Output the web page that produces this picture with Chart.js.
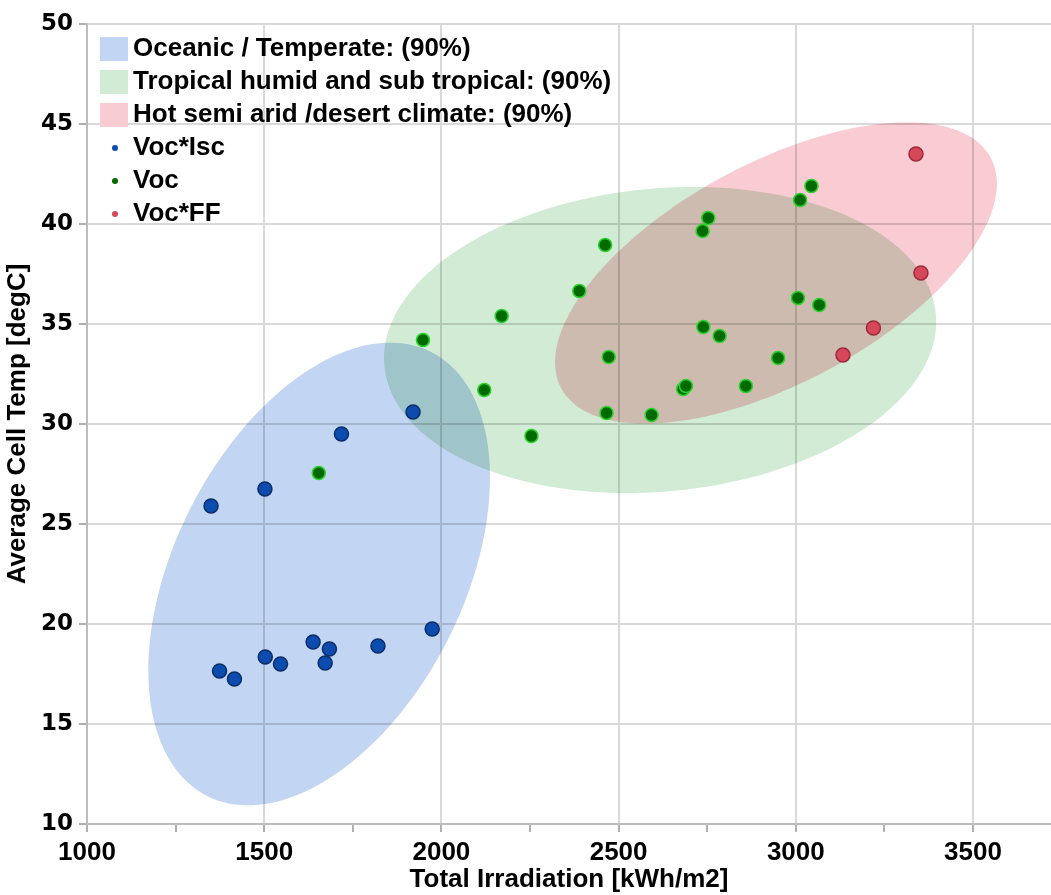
<!DOCTYPE html>
<html>
<head>
<meta charset="utf-8">
<script src="https://cdn.jsdelivr.net/npm/chart.js@4.4.1/dist/chart.umd.min.js"></script>
<style>
  html, body { margin: 0; padding: 0; background: #fff; overflow: hidden; }
  #wrap { width: 1051px; height: 895px; }
</style>
</head>
<body>
<div id="wrap"><canvas id="myChart"></canvas></div>
<script>
// x tick labels (every 500) and minor tick marks (every 250), y tick labels
const xTicks = [1000, 1500, 2000, 2500, 3000, 3500];
const xTickMarks = [1000, 1250, 1500, 1750, 2000, 2250, 2500, 2750, 3000, 3250, 3500];
const yTicks = [10, 15, 20, 25, 30, 35, 40, 45, 50];

// Voc*Isc (blue)
const vocIscX = [1350, 1502, 1718, 1920, 1374, 1416, 1503, 1546, 1638, 1684, 1672, 1821, 1974];
const vocIscY = [25.9, 26.75, 29.5, 30.6, 17.65, 17.25, 18.35, 18.0, 19.1, 18.75, 18.05, 18.9, 19.75];

// Voc (green)
const vocX = [1654, 1948, 2121, 2170, 2254, 2389, 2462, 2472, 2466, 2593, 2682, 2690, 2737, 2753, 2739, 2785, 2859, 2950, 3006, 3066, 3012, 3044];
const vocY = [27.55, 34.2, 31.7, 35.4, 29.4, 36.65, 38.95, 33.35, 30.55, 30.45, 31.75, 31.9, 39.65, 40.3, 34.85, 34.4, 31.9, 33.3, 36.3, 35.95, 41.2, 41.9];

// Voc*FF (red)
const vocFFX = [3339, 3353, 3219, 3133];
const vocFFY = [43.5, 37.55, 34.8, 33.45];

// 90% regions: centre, major and minor semi-axis vectors (data units)
const regionNames = ["Oceanic / Temperate: (90%)", "Tropical humid and sub tropical: (90%)", "Hot semi arid /desert climate: (90%)"];
const regionCenters = [[1655, 22.5], [2617, 34.2], [2944, 37.55]];
const regionMajor = [[316, 11.1], [778, 1.3], [606, 5.76]];
const regionMinor = [[364, -3.26], [40, -7.54], [146, -4.85]];
const regionColors = ["#c2d5f3", "#d1ebd4", "#f9cbd2"];

const seriesNames = ["Voc*Isc", "Voc", "Voc*FF"];
const seriesFill = ["#0b4cae", "#006a00", "#d6475a"];
const seriesBorder = ["#0b2d68", "#2ad22a", "#9e2a3b"];
const seriesRadius = [7, 6.5, 7];

function pts(xs, ys) {
  return xs.map((v, i) => ({ x: v, y: ys[i] }));
}

const regionPlugin = {
  id: "regions",
  beforeDatasetsDraw(chart) {
    const { ctx, chartArea, scales } = chart;
    ctx.save();
    ctx.beginPath();
    ctx.rect(chartArea.left, chartArea.top, chartArea.width, chartArea.height);
    ctx.clip();
    ctx.globalCompositeOperation = "multiply";
    regionCenters.forEach((c, i) => {
      ctx.beginPath();
      for (let k = 0; k <= 160; k++) {
        const t = (k / 160) * Math.PI * 2;
        const vx = c[0] + regionMajor[i][0] * Math.cos(t) + regionMinor[i][0] * Math.sin(t);
        const vy = c[1] + regionMajor[i][1] * Math.cos(t) + regionMinor[i][1] * Math.sin(t);
        const px = scales.x.getPixelForValue(vx);
        const py = scales.y.getPixelForValue(vy);
        if (k === 0) ctx.moveTo(px, py); else ctx.lineTo(px, py);
      }
      ctx.closePath();
      ctx.fillStyle = regionColors[i];
      ctx.fill();
    });
    ctx.restore();
  }
};

const legendPlugin = {
  id: "insideLegend",
  afterDraw(chart) {
    const ctx = chart.ctx;
    const left = chart.chartArea.left;
    const top = chart.chartArea.top;
    ctx.save();
    ctx.font = 'bold 26px "Liberation Sans", Arial, sans-serif';
    ctx.textBaseline = "middle";
    regionNames.forEach((name, i) => {
      const cy = top + 25 + i * 33;
      ctx.fillStyle = regionColors[i];
      ctx.fillRect(left + 13, cy - 12, 28, 24);
      ctx.fillStyle = "#000";
      ctx.fillText(name, left + 46, cy);
    });
    seriesNames.forEach((name, i) => {
      const cy = top + 25 + (i + 3) * 33;
      ctx.beginPath();
      ctx.arc(left + 28, cy, 3, 0, Math.PI * 2);
      ctx.fillStyle = seriesFill[i];
      ctx.fill();
      ctx.fillStyle = "#000";
      ctx.fillText(name, left + 46, cy);
    });
    ctx.restore();
  }
};

const ctx = document.getElementById("myChart");

const chart = new Chart(ctx, {
  type: "scatter",
  data: {
    datasets: [
      { label: seriesNames[0], data: pts(vocIscX, vocIscY) },
      { label: seriesNames[1], data: pts(vocX, vocY) },
      { label: seriesNames[2], data: pts(vocFFX, vocFFY) },
    ].map((d, i) => Object.assign(d, {
      backgroundColor: seriesFill[i],
      borderColor: seriesBorder[i],
      borderWidth: 1.5,
      pointRadius: seriesRadius[i],
    })),
  },
  options: {
    responsive: true,
    maintainAspectRatio: false,
    animation: false,
    layout: { autoPadding: false, padding: { top: 24, right: 0, bottom: 0, left: 0 } },
    plugins: {
      legend: { display: false },
      tooltip: { enabled: false },
    },
    scales: {
      x: {
        type: "linear",
        min: 1000,
        max: 3720,
        afterBuildTicks: (s) => {
          s.ticks = xTickMarks.map((v) => ({ value: v }));
        },
        afterFit: (s) => {
          s.height = 71;
          s.paddingLeft = 0;
          s.paddingRight = 0;
        },
        ticks: {
          autoSkip: false,
          maxRotation: 0,
          padding: 5,
          color: "#000",
          font: { family: "Liberation Sans", weight: "bold", size: 26 },
          callback: (v) => (xTicks.includes(v) ? String(v) : ""),
        },
        grid: {
          color: (c) => (c.tick && xTicks.includes(c.tick.value) ? "#d9d9d9" : "rgba(0,0,0,0)"),
          lineWidth: 2,
          tickColor: "#b0b0b0",
          tickLength: 8,
        },
        border: { color: "#bdbdbd", width: 2 },
        title: {
          display: true,
          text: "Total Irradiation [kWh/m2]",
          color: "#000",
          font: { family: "Liberation Sans", weight: "bold", size: 26 },
          padding: { top: 0, bottom: 0 },
        },
      },
      y: {
        min: 10,
        max: 50,
        afterFit: (s) => { s.width = 87; },
        ticks: {
          stepSize: 5,
          padding: 6,
          color: "#000",
          font: { family: "DejaVu Sans", weight: "bold", size: 23 },
          callback: (v) => (yTicks.includes(v) ? String(v) : ""),
        },
        grid: {
          color: "#d9d9d9",
          lineWidth: 2,
          tickColor: "#b0b0b0",
          tickLength: 8,
        },
        border: { color: "#bdbdbd", width: 2 },
        title: {
          display: true,
          text: "Average Cell Temp [degC]",
          color: "#000",
          font: { family: "Liberation Sans", weight: "bold", size: 26 },
          padding: { top: 2, bottom: 0 },
        },
      },
    },
  },
  plugins: [regionPlugin, legendPlugin],
});
</script>
</body>
</html>
